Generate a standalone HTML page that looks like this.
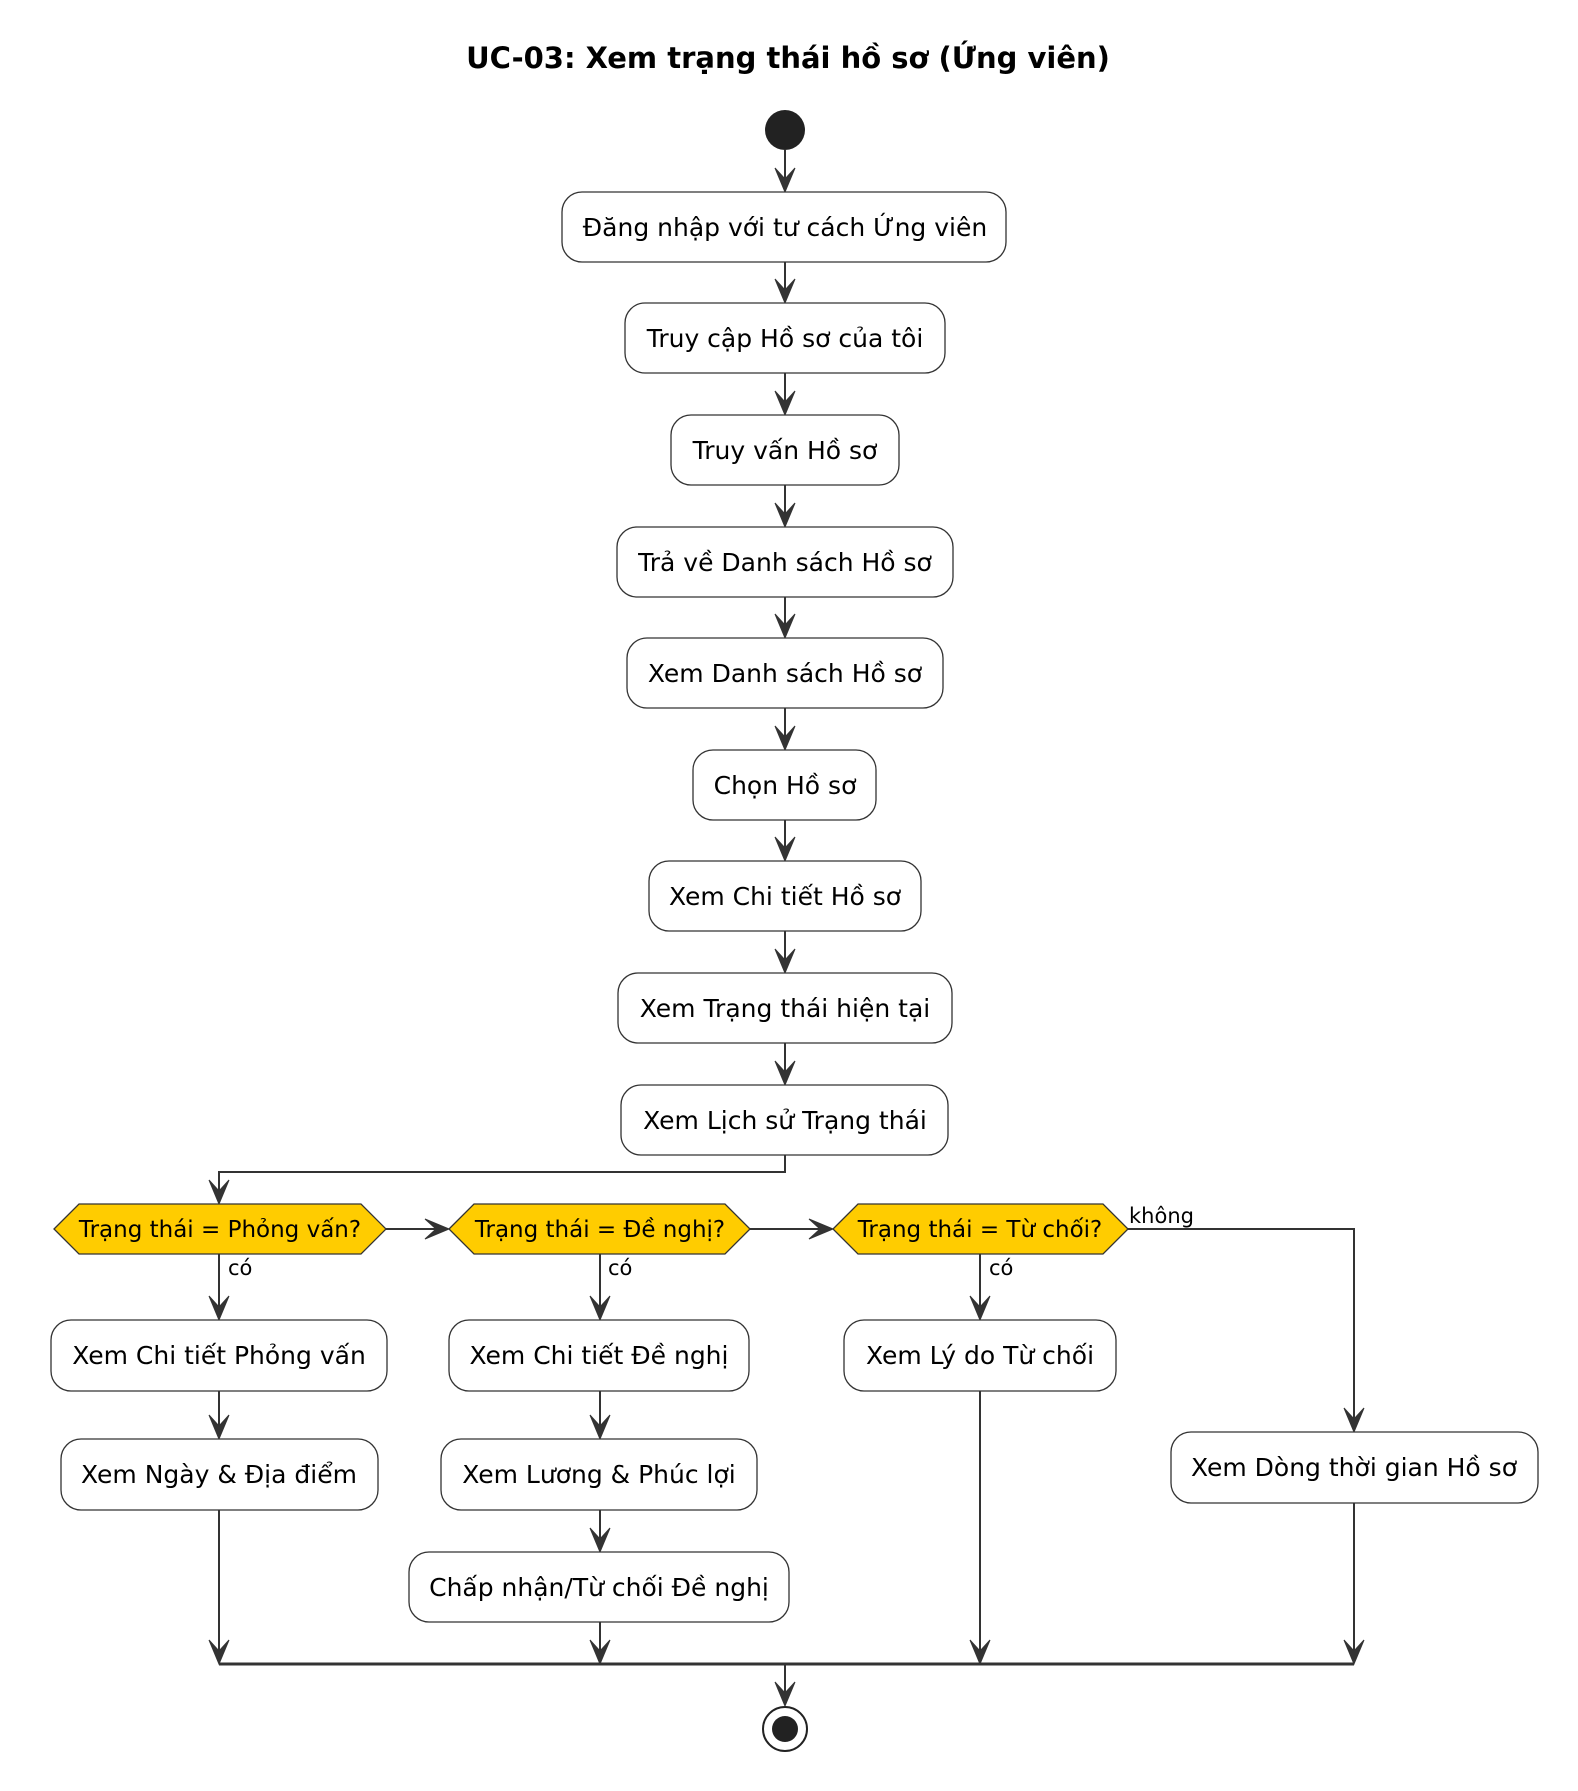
<!DOCTYPE html>
<html><head><meta charset="utf-8"><style>
html,body{margin:0;padding:0;background:#fff;}
svg{display:block;}
text{font-family:"DejaVu Sans","Liberation Sans",sans-serif;fill:#000;}
.b{fill:#fff;stroke:#333;stroke-width:1.3;}
.l{stroke:#333;stroke-width:2;fill:none;}
.a{fill:#333;stroke:#333;stroke-width:1;}
.d{fill:#FFCC00;stroke:#333;stroke-width:1.3;}
.t{font-size:25px;text-anchor:middle;}
.dt{font-size:23px;text-anchor:middle;}
.lb{font-size:21px;}
</style></head><body>
<svg width="1578" height="1791" viewBox="0 0 1578 1791" xmlns="http://www.w3.org/2000/svg">
<defs>
<g id="ad"><polygon class="a" points="0,0 -10,-24 0,-13 10,-24"/></g>
<g id="ar"><polygon class="a" points="0,0 -24,-10 -13,0 -24,10"/></g>
</defs>
<text x="788" y="68" style="font-size:29px;font-weight:bold;text-anchor:middle">UC-03: Xem trạng thái hồ sơ (Ứng viên)</text>
<g transform="translate(5,0)">
<circle cx="780" cy="130" r="20" fill="#222"/>
<line class="l" x1="780" y1="150" x2="780" y2="190"/><use href="#ad" x="780" y="192"/>
<rect class="b" x="557" y="192" width="444" height="70" rx="20"/>
<text class="t" x="780" y="236">Đăng nhập với tư cách Ứng viên</text>
<line class="l" x1="780" y1="262" x2="780" y2="301"/><use href="#ad" x="780" y="303"/>
<rect class="b" x="620" y="303" width="320" height="70" rx="20"/>
<text class="t" x="780" y="347">Truy cập Hồ sơ của tôi</text>
<line class="l" x1="780" y1="373" x2="780" y2="413"/><use href="#ad" x="780" y="415"/>
<rect class="b" x="666" y="415" width="228" height="70" rx="20"/>
<text class="t" x="780" y="459">Truy vấn Hồ sơ</text>
<line class="l" x1="780" y1="485" x2="780" y2="525"/><use href="#ad" x="780" y="527"/>
<rect class="b" x="612" y="527" width="336" height="70" rx="20"/>
<text class="t" x="780" y="571">Trả về Danh sách Hồ sơ</text>
<line class="l" x1="780" y1="597" x2="780" y2="636"/><use href="#ad" x="780" y="638"/>
<rect class="b" x="622" y="638" width="316" height="70" rx="20"/>
<text class="t" x="780" y="682">Xem Danh sách Hồ sơ</text>
<line class="l" x1="780" y1="708" x2="780" y2="748"/><use href="#ad" x="780" y="750"/>
<rect class="b" x="688" y="750" width="183" height="70" rx="20"/>
<text class="t" x="780" y="794">Chọn Hồ sơ</text>
<line class="l" x1="780" y1="820" x2="780" y2="859"/><use href="#ad" x="780" y="861"/>
<rect class="b" x="644" y="861" width="272" height="70" rx="20"/>
<text class="t" x="780" y="905">Xem Chi tiết Hồ sơ</text>
<line class="l" x1="780" y1="931" x2="780" y2="971"/><use href="#ad" x="780" y="973"/>
<rect class="b" x="613" y="973" width="334" height="70" rx="20"/>
<text class="t" x="780" y="1017">Xem Trạng thái hiện tại</text>
<line class="l" x1="780" y1="1043" x2="780" y2="1083"/><use href="#ad" x="780" y="1085"/>
<rect class="b" x="616" y="1085" width="327" height="70" rx="20"/>
<text class="t" x="780" y="1129">Xem Lịch sử Trạng thái</text>
</g>

<polyline class="l" points="785,1155 785,1172 219,1172 219,1202"/><use href="#ad" x="219" y="1204"/>

<polygon class="d" points="54,1229 79,1204 361,1204 386,1229 361,1254 79,1254"/>
<text class="dt" x="220" y="1237">Trạng thái = Phỏng vấn?</text>
<polygon class="d" points="449,1229 474,1204 725,1204 750,1229 725,1254 474,1254"/>
<text class="dt" x="600" y="1237">Trạng thái = Đề nghị?</text>
<polygon class="d" points="833,1229 858,1204 1103,1204 1128,1229 1103,1254 858,1254"/>
<text class="dt" x="980" y="1237">Trạng thái = Từ chối?</text>

<line class="l" x1="386" y1="1229" x2="447" y2="1229"/><use href="#ar" x="449" y="1229"/>
<line class="l" x1="750" y1="1229" x2="831" y2="1229"/><use href="#ar" x="833" y="1229"/>
<polyline class="l" points="1128,1229 1354,1229 1354,1430"/><use href="#ad" x="1354" y="1432"/>
<text class="lb" x="1129" y="1223">không</text>

<line class="l" x1="219" y1="1254" x2="219" y2="1318"/><use href="#ad" x="219" y="1320"/>
<text class="lb" x="228" y="1275">có</text>
<rect class="b" x="51" y="1320" width="336" height="71" rx="20"/>
<text class="t" x="219" y="1364">Xem Chi tiết Phỏng vấn</text>
<line class="l" x1="219" y1="1391" x2="219" y2="1437"/><use href="#ad" x="219" y="1439"/>
<rect class="b" x="61" y="1439" width="317" height="71" rx="20"/>
<text class="t" x="219" y="1483">Xem Ngày &amp; Địa điểm</text>
<line class="l" x1="219" y1="1510" x2="219" y2="1662"/><use href="#ad" x="219" y="1664"/>

<line class="l" x1="600" y1="1254" x2="600" y2="1318"/><use href="#ad" x="600" y="1320"/>
<text class="lb" x="608" y="1275">có</text>
<rect class="b" x="449" y="1320" width="300" height="71" rx="20"/>
<text class="t" x="599" y="1364">Xem Chi tiết Đề nghị</text>
<line class="l" x1="600" y1="1391" x2="600" y2="1437"/><use href="#ad" x="600" y="1439"/>
<rect class="b" x="441" y="1439" width="316" height="71" rx="20"/>
<text class="t" x="599" y="1483">Xem Lương &amp; Phúc lợi</text>
<line class="l" x1="600" y1="1510" x2="600" y2="1550"/><use href="#ad" x="600" y="1552"/>
<rect class="b" x="409" y="1552" width="380" height="70" rx="20"/>
<text class="t" x="599" y="1596">Chấp nhận/Từ chối Đề nghị</text>
<line class="l" x1="600" y1="1622" x2="600" y2="1662"/><use href="#ad" x="600" y="1664"/>

<line class="l" x1="980" y1="1254" x2="980" y2="1318"/><use href="#ad" x="980" y="1320"/>
<text class="lb" x="989" y="1275">có</text>
<rect class="b" x="844" y="1320" width="272" height="71" rx="20"/>
<text class="t" x="980" y="1364">Xem Lý do Từ chối</text>
<line class="l" x1="980" y1="1391" x2="980" y2="1662"/><use href="#ad" x="980" y="1664"/>

<rect class="b" x="1171" y="1432" width="367" height="71" rx="20"/>
<text class="t" x="1354" y="1476">Xem Dòng thời gian Hồ sơ</text>
<line class="l" x1="1354" y1="1503" x2="1354" y2="1662"/><use href="#ad" x="1354" y="1664"/>

<line x1="219" y1="1664" x2="1354" y2="1664" stroke="#333" stroke-width="3"/>
<line class="l" x1="785" y1="1664" x2="785" y2="1704"/><use href="#ad" x="785" y="1706"/>
<circle cx="785" cy="1729" r="22" fill="#fff" stroke="#222" stroke-width="2"/>
<circle cx="785" cy="1729" r="13" fill="#222"/>
</svg>
</body></html>
